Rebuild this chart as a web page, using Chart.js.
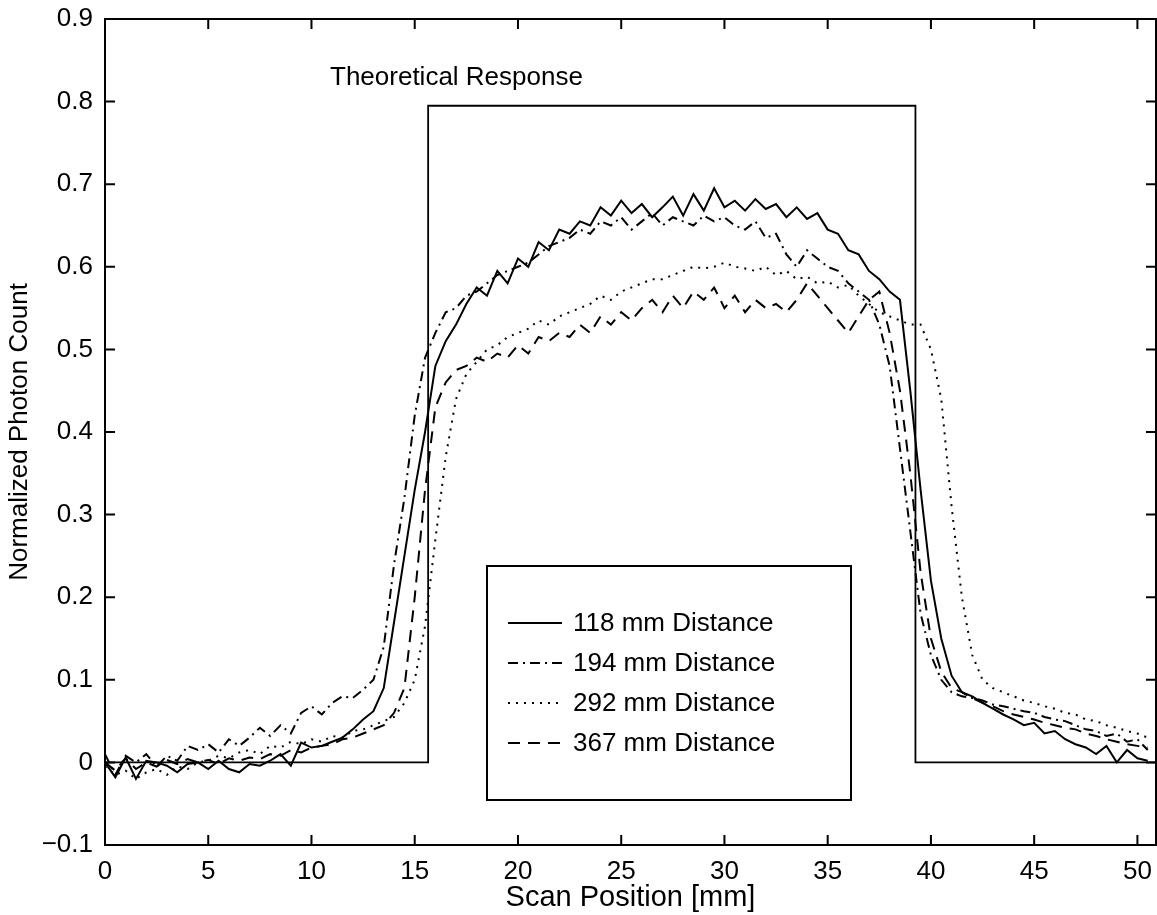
<!DOCTYPE html>
<html>
<head>
<meta charset="utf-8">
<script src="https://cdn.jsdelivr.net/npm/chart.js@4.4.1/dist/chart.umd.min.js"></script>
<style>
  html, body { margin: 0; padding: 0; background: #fff; }
  #wrap { width: 1157px; height: 915px; position: relative; }
</style>
</head>
<body>
<div id="wrap"><canvas id="chart"></canvas></div>
<script>
// scan positions (mm), one sample every 0.5 mm
const SCAN_X = [];
for (let i = 0; i <= 101; i++) SCAN_X.push(i * 0.5);

// Normalized photon count per detector distance
const D118 = [
  0.000, -0.018, 0.006, -0.020, 0.002, 0.000, -0.004, -0.012, -0.002, 0.000,
  -0.008, 0.002, -0.008, -0.012, -0.002, -0.004, 0.002, 0.010, -0.004, 0.024,
  0.018, 0.020, 0.025, 0.030, 0.040, 0.052, 0.062, 0.090, 0.170, 0.250,
  0.330, 0.400, 0.480, 0.510, 0.530, 0.555, 0.575, 0.565, 0.595, 0.580,
  0.610, 0.600, 0.630, 0.620, 0.645, 0.640, 0.655, 0.650, 0.672, 0.662,
  0.680, 0.665, 0.676, 0.660, 0.672, 0.685, 0.662, 0.688, 0.668, 0.695,
  0.672, 0.680, 0.668, 0.682, 0.670, 0.676, 0.660, 0.672, 0.658, 0.665,
  0.645, 0.640, 0.620, 0.615, 0.595, 0.585, 0.570, 0.560, 0.450, 0.330,
  0.220, 0.150, 0.105, 0.085, 0.080, 0.072, 0.065, 0.058, 0.052, 0.045,
  0.048, 0.035, 0.038, 0.028, 0.022, 0.018, 0.010, 0.020, 0.000, 0.015,
  0.005, 0.002
];
const D194 = [
  0.010, -0.015, 0.008, 0.000, 0.010, -0.005, 0.008, 0.002, 0.020, 0.015,
  0.022, 0.012, 0.028, 0.020, 0.030, 0.042, 0.032, 0.045, 0.035, 0.060,
  0.068, 0.058, 0.072, 0.080, 0.078, 0.088, 0.100, 0.140, 0.240, 0.320,
  0.420, 0.490, 0.520, 0.545, 0.550, 0.565, 0.570, 0.580, 0.590, 0.595,
  0.600, 0.605, 0.615, 0.625, 0.630, 0.635, 0.645, 0.640, 0.655, 0.650,
  0.660, 0.645, 0.655, 0.665, 0.650, 0.660, 0.655, 0.650, 0.662, 0.655,
  0.660, 0.650, 0.645, 0.655, 0.635, 0.640, 0.615, 0.600, 0.620, 0.610,
  0.600, 0.595, 0.580, 0.570, 0.560, 0.530, 0.480, 0.380, 0.280, 0.180,
  0.130, 0.100, 0.085, 0.080, 0.078, 0.075, 0.070, 0.068, 0.065, 0.062,
  0.060, 0.055, 0.052, 0.050, 0.045, 0.040, 0.038, 0.032, 0.035, 0.025,
  0.028, 0.015
];
const D292 = [
  -0.005, -0.015, -0.010, -0.020, -0.012, -0.008, -0.015, -0.005, -0.008, 0.000,
  0.002, 0.008, 0.005, 0.012, 0.015, 0.010, 0.020, 0.018, 0.025, 0.022,
  0.028, 0.025, 0.032, 0.030, 0.038, 0.040, 0.045, 0.050, 0.055, 0.072,
  0.100, 0.165, 0.270, 0.370, 0.440, 0.470, 0.485, 0.500, 0.505, 0.515,
  0.520, 0.525, 0.535, 0.530, 0.540, 0.545, 0.550, 0.555, 0.565, 0.560,
  0.570, 0.575, 0.580, 0.585, 0.585, 0.590, 0.595, 0.600, 0.598, 0.600,
  0.605, 0.600, 0.598, 0.595, 0.600, 0.590, 0.595, 0.585, 0.588, 0.580,
  0.582, 0.575, 0.578, 0.565, 0.555, 0.545, 0.540, 0.535, 0.530, 0.530,
  0.500, 0.440, 0.310, 0.200, 0.130, 0.100, 0.090, 0.085, 0.080, 0.075,
  0.072, 0.068, 0.065, 0.060, 0.058, 0.052, 0.050, 0.045, 0.042, 0.038,
  0.035, 0.030
];
const D367 = [
  0.000, -0.010, 0.005, -0.008, 0.000, -0.005, 0.003, -0.002, 0.004, 0.000,
  0.003, -0.002, 0.005, 0.002, 0.006, 0.004, 0.010, 0.008, 0.015, 0.012,
  0.018, 0.020, 0.022, 0.028, 0.030, 0.035, 0.040, 0.045, 0.060, 0.090,
  0.200, 0.330, 0.430, 0.460, 0.475, 0.480, 0.490, 0.485, 0.495, 0.490,
  0.505, 0.495, 0.515, 0.510, 0.520, 0.515, 0.530, 0.520, 0.540, 0.530,
  0.545, 0.535, 0.550, 0.560, 0.545, 0.565, 0.550, 0.570, 0.560, 0.575,
  0.550, 0.565, 0.545, 0.560, 0.550, 0.555, 0.545, 0.560, 0.580, 0.565,
  0.550, 0.535, 0.520, 0.540, 0.560, 0.570, 0.520, 0.450, 0.350, 0.230,
  0.150, 0.110, 0.090, 0.085, 0.078, 0.072, 0.068, 0.062, 0.058, 0.055,
  0.052, 0.048, 0.045, 0.042, 0.040, 0.035, 0.032, 0.028, 0.025, 0.022,
  0.020, 0.018
];

// ideal (theoretical) step response
const THEORY_X = [0, 15.65, 15.65, 39.25, 39.25, 50.9];
const THEORY_Y = [0, 0, 0.795, 0.795, 0, 0];

const SERIES_LABELS = ["118 mm Distance", "194 mm Distance", "292 mm Distance", "367 mm Distance"];
const X_TICKS = [0, 5, 10, 15, 20, 25, 30, 35, 40, 45, 50];
const Y_TICKS = [-0.1, 0, 0.1, 0.2, 0.3, 0.4, 0.5, 0.6, 0.7, 0.8, 0.9];

const FONT = "'Liberation Sans', Arial, Helvetica, sans-serif";
const FSIZE = 26;

const toPts = (xs, ys) => xs.map((x, i) => ({ x, y: ys[i] }));

const curve = (label, ys, dash) => ({
  label,
  data: toPts(SCAN_X, ys),
  borderColor: "#000",
  borderWidth: 2,
  borderDash: dash,
  pointRadius: 0,
  tension: 0,
  fill: false,
});

const datasets = [
  curve(SERIES_LABELS[0], D118, []),
  curve(SERIES_LABELS[1], D194, [10, 5, 2, 5]),
  curve(SERIES_LABELS[2], D292, [2, 6]),
  curve(SERIES_LABELS[3], D367, [12, 8]),
  {
    label: "Theoretical Response",
    data: toPts(THEORY_X, THEORY_Y),
    borderColor: "#000",
    borderWidth: 1.8,
    pointRadius: 0,
    tension: 0,
    fill: false,
  },
];

// box frame + inward ticks on all four sides (matlab style)
const framePlugin = {
  id: "frame",
  afterDraw(chart) {
    const { ctx, chartArea: a, scales } = chart;
    ctx.save();
    ctx.strokeStyle = "#000";
    ctx.lineWidth = 2;
    ctx.setLineDash([]);
    ctx.strokeRect(a.left, a.top, a.right - a.left, a.bottom - a.top);
    const tl = 10;
    ctx.beginPath();
    for (const v of X_TICKS) {
      const px = scales.x.getPixelForValue(v);
      ctx.moveTo(px, a.bottom); ctx.lineTo(px, a.bottom - tl);
      ctx.moveTo(px, a.top); ctx.lineTo(px, a.top + tl);
    }
    for (const v of Y_TICKS) {
      const py = scales.y.getPixelForValue(v);
      ctx.moveTo(a.left, py); ctx.lineTo(a.left + tl, py);
      ctx.moveTo(a.right, py); ctx.lineTo(a.right - tl, py);
    }
    ctx.stroke();
    ctx.restore();
  },
};

// in-plot legend box and the "Theoretical Response" note
const annotPlugin = {
  id: "annot",
  afterDraw(chart) {
    const { ctx } = chart;
    ctx.save();
    ctx.fillStyle = "#000";
    ctx.font = `${FSIZE}px ${FONT}`;
    ctx.textBaseline = "alphabetic";
    ctx.fillText("Theoretical Response", 330, 85);

    // legend
    const box = { l: 487, t: 566, r: 851, b: 800 };
    ctx.fillStyle = "#fff";
    ctx.fillRect(box.l, box.t, box.r - box.l, box.b - box.t);
    ctx.strokeStyle = "#000";
    ctx.lineWidth = 2;
    ctx.strokeRect(box.l, box.t, box.r - box.l, box.b - box.t);
    const rows = [623, 663, 703, 743];
    SERIES_LABELS.forEach((lab, i) => {
      const ds = chart.data.datasets[i];
      ctx.beginPath();
      ctx.setLineDash(ds.borderDash);
      ctx.lineWidth = 2;
      ctx.moveTo(508, rows[i]);
      ctx.lineTo(562, rows[i]);
      ctx.stroke();
      ctx.setLineDash([]);
      ctx.fillStyle = "#000";
      ctx.textBaseline = "middle";
      ctx.fillText(lab, 573, rows[i] + 1);
    });
    ctx.restore();
  },
};

Chart.defaults.color = "#000";
Chart.defaults.font.family = FONT;
Chart.defaults.font.size = FSIZE;

new Chart(document.getElementById("chart"), {
  type: "line",
  data: { datasets },
  options: {
    responsive: true,
    maintainAspectRatio: false,
    animation: false,
    layout: { padding: { top: 19, right: 1, left: 0, bottom: 0 } },
    plugins: { legend: { display: false }, tooltip: { enabled: false } },
    scales: {
      x: {
        type: "linear",
        min: 0,
        max: 50.9,
        afterFit: (s) => { s.height = 70; s.paddingLeft = 0; s.paddingRight = 0; },
        afterBuildTicks: (s) => { s.ticks = X_TICKS.map((v) => ({ value: v })); },
        ticks: { padding: 11, includeBounds: false, maxRotation: 0, autoSkip: false },
        grid: { display: false, drawTicks: false },
        border: { display: false },
        title: {
          display: true,
          text: "Scan Position [mm]",
          font: { size: 29 },
          padding: { top: 0, bottom: 0 },
        },
      },
      y: {
        type: "linear",
        min: -0.1,
        max: 0.9,
        afterFit: (s) => { s.width = 105; s.paddingTop = 0; s.paddingBottom = 0; },
        afterBuildTicks: (s) => { s.ticks = Y_TICKS.map((v) => ({ value: v })); },
        ticks: {
          padding: 12,
          autoSkip: false,
          callback: (v) => {
            if (Math.abs(v) < 1e-9) return "0";
            return v < 0 ? "\u2212" + Math.abs(v).toFixed(1) : v.toFixed(1);
          },
        },
        grid: { display: false, drawTicks: false },
        border: { display: false },
        title: { display: true, text: "Normalized Photon Count", padding: { top: 4, bottom: 0 } },
      },
    },
  },
  plugins: [framePlugin, annotPlugin],
});
</script>
</body>
</html>
